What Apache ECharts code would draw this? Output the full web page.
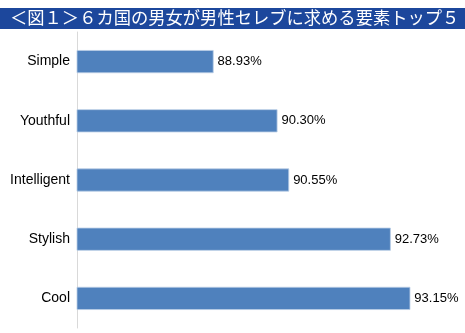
<!DOCTYPE html>
<html><head><meta charset="utf-8">
<script src="https://cdn.jsdelivr.net/npm/echarts@6/dist/echarts.min.js"></script>
<style>html,body{margin:0;padding:0;background:#fff}#c{width:465px;height:333px}</style>
</head><body><div id="c"></div>
<script>
const titleText = '＜図１＞６カ国の男女が男性セレブに求める要素トップ５';
const categories = ['Simple', 'Youthful', 'Intelligent', 'Stylish', 'Cool'];
const values = [88.93, 90.30, 90.55, 92.73, 93.15];

const chart = echarts.init(document.getElementById('c'), null, {renderer: 'canvas'});
chart.setOption({
  animation: false,
  backgroundColor: '#fff',
  graphic: [
    {type: 'rect', left: 0, top: 8, shape: {width: 465, height: 21}, style: {fill: '#1c479c'}},
    {type: 'text', left: 10, top: 9, style: {text: titleText, fill: '#fff', font: '17.3px "Noto Sans CJK JP"'}}
  ],
  grid: {left: 77, right: 15, top: 32, bottom: 5, containLabel: false},
  xAxis: {
    type: 'value', min: 86, max: 94, show: false
  },
  yAxis: {
    type: 'category', data: categories, inverse: true,
    axisLine: {show: true, lineStyle: {color: '#d9d9d9', width: 1}},
    axisTick: {show: false},
    axisLabel: {color: '#000', fontSize: 14, fontFamily: 'Liberation Sans, Arial', margin: 7}
  },
  series: [{
    type: 'bar', data: values, barWidth: '39%',
    itemStyle: {color: '#4f81bd', borderColor: '#b9cde5', borderWidth: 0.8},
    label: {show: true, position: 'right', distance: 4, color: '#000', fontSize: 13,
      fontFamily: 'Liberation Sans, Arial',
      formatter: p => p.value.toFixed(2) + '%'}
  }]
});
</script></body></html>
